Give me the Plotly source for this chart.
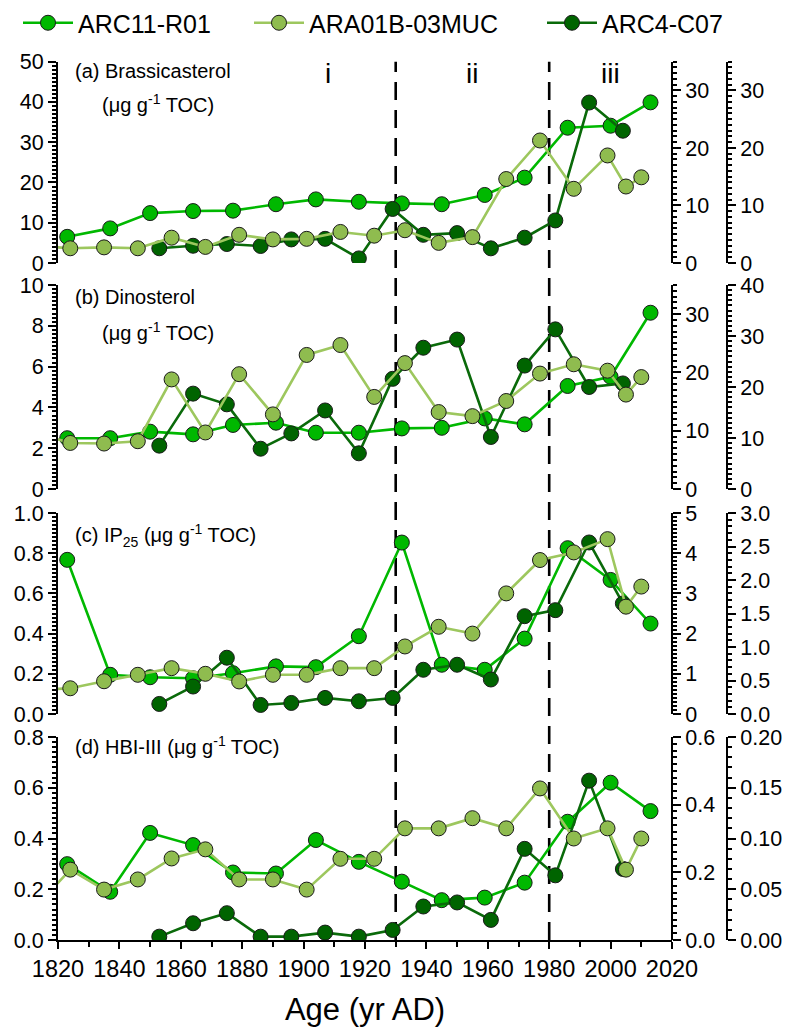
import plotly.graph_objects as go

# ---- data -------------------------------------------------------------
arc11_years = [1823, 1837, 1850, 1864, 1877, 1891, 1904, 1918, 1932, 1945, 1959, 1972, 1986, 2000, 2013]
arc11_brassicasterol = [6.5, 8.6, 12.4, 12.9, 13.0, 14.6, 15.8, 15.2, 14.8, 14.6, 16.9, 21.2, 33.6, 34.1, 39.9]
arc11_dinosterol = [2.49, 2.49, 2.81, 2.68, 3.14, 3.25, 2.76, 2.76, 2.97, 3.0, 3.46, 3.17, 5.05, 5.5, 8.64]
arc11_ip25 = [0.767, 0.195, 0.183, 0.178, 0.203, 0.237, 0.233, 0.387, 0.853, 0.245, 0.22, 0.375, 0.825, 0.667, 0.45]
arc11_hbi3 = [0.299, 0.19, 0.422, 0.374, 0.266, 0.262, 0.394, 0.308, 0.23, 0.157, 0.167, 0.226, 0.466, 0.62, 0.508]

ara_years = [1813, 1824, 1835, 1846, 1857, 1868, 1879, 1890, 1901, 1912, 1923, 1933, 1944, 1955, 1966,
             1977, 1988, 1999, 2005, 2010]
ara_brassicasterol = [3.0, 2.56, 2.72, 2.56, 4.4, 2.8, 4.9, 4.1, 4.2, 5.4, 4.75, 5.7, 3.5, 4.5, 14.6,
                      21.3, 12.9, 18.7, 13.3, 14.9]
ara_dinosterol = [9.6, 7.9, 7.8, 8.2, 18.8, 9.7, 19.7, 12.8, 23.0, 24.7, 15.8, 21.6, 13.2, 12.5, 15.1,
                  19.8, 21.4, 20.3, 16.2, 19.2]
ara_ip25 = [0.6, 0.64, 0.815, 0.975, 1.14, 1.0, 0.81, 0.975, 0.975, 1.14, 1.14, 1.68, 2.17, 2.0, 3.0,
            3.83, 4.02, 4.35, 2.67, 3.17]
ara_hbi3 = [0.10, 0.208, 0.149, 0.179, 0.241, 0.268, 0.179, 0.179, 0.149, 0.24, 0.24, 0.33, 0.33, 0.36, 0.33,
            0.448, 0.30, 0.33, 0.208, 0.30]

arc4_years = [1853, 1864, 1875, 1886, 1896, 1907, 1918, 1929, 1939, 1950, 1961, 1972, 1982, 1993, 2004]
arc4_brassicasterol = [2.56, 3.0, 3.3, 2.96, 4.1, 4.2, 0.8, 9.4, 4.9, 5.2, 2.55, 4.4, 7.4, 27.9, 23.0]
arc4_dinosterol = [8.5, 18.7, 16.6, 7.9, 10.9, 15.4, 7.0, 21.6, 27.7, 29.3, 10.2, 24.2, 31.3, 20.0, 20.7]
arc4_ip25 = [0.15, 0.41, 0.84, 0.135, 0.165, 0.24, 0.19, 0.24, 0.66, 0.735, 0.515, 1.46, 1.55, 2.56, 1.65]
arc4_hbi3 = [0.0033, 0.0165, 0.0264, 0.0033, 0.0033, 0.0073, 0.0033, 0.0099, 0.033, 0.037, 0.0198,
             0.0898, 0.0637, 0.157, 0.07]

period_bounds = [1930, 1980]
period_labels = ["i", "ii", "iii"]

panel_titles = [
    ["(a) Brassicasterol", "(μg g<sup>-1</sup> TOC)"],
    ["(b) Dinosterol", "(μg g<sup>-1</sup> TOC)"],
    ["(c) IP<sub>25</sub> (μg g<sup>-1</sup> TOC)"],
    ["(d) HBI-III (μg g<sup>-1</sup> TOC)"],
]

# axis scales per panel: (left ARC11-R01, inner right ARA01B-03MUC, outer right ARC4-C07)
left_axes = [dict(range=[0, 50], dtick=10, minor=1, fmt="d"),
             dict(range=[0, 10], dtick=2, minor=0.2, fmt="d"),
             dict(range=[0, 1.0], dtick=0.2, minor=0.02, fmt=".1f"),
             dict(range=[0, 0.8], dtick=0.2, minor=0.02, fmt=".1f")]
inner_axes = [dict(range=[0, 35], dtick=10, minor=1, fmt="d"),
              dict(range=[0, 35], dtick=10, minor=1, fmt="d"),
              dict(range=[0, 5], dtick=1, minor=0.1, fmt="d"),
              dict(range=[0, 0.6], dtick=0.2, minor=0.02, fmt=".1f")]
outer_axes = [dict(range=[0, 35], dtick=10, minor=1, fmt="d"),
              dict(range=[0, 40], dtick=10, minor=1, fmt="d"),
              dict(range=[0, 3.0], dtick=0.5, minor=0.1, fmt=".1f"),
              dict(range=[0, 0.2], dtick=0.05, minor=0.01, fmt=".2f")]

arc11_series = [arc11_brassicasterol, arc11_dinosterol, arc11_ip25, arc11_hbi3]
ara_series = [ara_brassicasterol, ara_dinosterol, ara_ip25, ara_hbi3]
arc4_series = [arc4_brassicasterol, arc4_dinosterol, arc4_ip25, arc4_hbi3]

# ---- styling ----------------------------------------------------------
W, H = 792, 1027
FONT = "Liberation Sans, Arial, sans-serif"
C_ARC11 = "#00B800"
C_ARA_M, C_ARA_L = "#8FBC4F", "#9DC75E"
C_ARC4_M, C_ARC4_L = "#006400", "#0A6A0A"
EDGE = "#1a1a1a"

x_left, x_right = 58 / W, 672 / W
x_outer = 727 / W
# vertical pixel extents of the four panels (top, bottom)
panel_px = [(61.7, 263), (285, 489), (513, 714), (737, 940)]
domains = [[1 - b / H, 1 - t / H] for t, b in panel_px]

fig = go.Figure()


def add_series(x, y, xa, ya, name, mcolor, lcolor, legend, show):
    fig.add_trace(go.Scatter(
        x=x, y=y, xaxis=xa, yaxis=ya, name=name, mode="lines+markers",
        line=dict(color=lcolor, width=2.6),
        marker=dict(size=15, color=mcolor, line=dict(color=EDGE, width=1)),
        legend=legend, showlegend=show,
    ))


axis_common = dict(showline=True, linewidth=2, linecolor="black", ticks="outside",
                   ticklen=8, tickwidth=2, tickcolor="black", showgrid=False, zeroline=False,
                   tickfont=dict(size=21.5, color="black", family=FONT))


def minor(d):
    return dict(dtick=d, ticklen=4, tickwidth=1.5, tickcolor="black", ticks="outside")


for p in range(4):
    li, oi, ii = 3 * p + 1, 3 * p + 2, 3 * p + 3
    lname = "y" if li == 1 else f"y{li}"
    # bottom layer: ARC11-R01, then ARC4-C07, then ARA01B-03MUC on top
    add_series(arc11_years, arc11_series[p], "x", lname, "ARC11-R01", C_ARC11, C_ARC11, "legend", p == 0)
    add_series(arc4_years, arc4_series[p], "x", f"y{oi}", "ARC4-C07", C_ARC4_M, C_ARC4_L, "legend3", p == 0)
    add_series(ara_years, ara_series[p], "x", f"y{ii}", "ARA01B-03MUC", C_ARA_M, C_ARA_L, "legend2", p == 0)

    la, ia, oa = left_axes[p], inner_axes[p], outer_axes[p]
    fig.update_layout(**{
        ("yaxis" if li == 1 else f"yaxis{li}"): dict(
            axis_common, domain=domains[p], anchor="x", side="left", range=la["range"],
            dtick=la["dtick"], tick0=0, tickformat=la["fmt"], minor=minor(la["minor"])),
        f"yaxis{ii}": dict(
            axis_common, overlaying=lname, anchor="free", position=x_right, side="right",
            range=ia["range"], dtick=ia["dtick"], tick0=0, tickformat=ia["fmt"], minor=minor(ia["minor"])),
        f"yaxis{oi}": dict(
            axis_common, overlaying=lname, anchor="free", position=x_outer, side="right",
            range=oa["range"], dtick=oa["dtick"], tick0=0, tickformat=oa["fmt"], minor=minor(oa["minor"])),
    })

fig.update_layout(xaxis=dict(
    domain=[x_left, x_right], range=[1820, 2020], anchor="y10", showline=True, linewidth=2,
    linecolor="black", ticks="outside", ticklen=7, tickwidth=2, tickcolor="black", dtick=20,
    showgrid=False, zeroline=False, minor=dict(dtick=10, ticklen=5, tickwidth=1.5, ticks="outside",
                                               tickcolor="black"),
    tickfont=dict(size=23.5, color="black", family=FONT),
    title=dict(text="Age (yr AD)", font=dict(size=31, color="black", family=FONT), standoff=33),
))

# period boundaries
y_bot, y_top = domains[3][0], domains[0][1]
for yr in period_bounds:
    fig.add_shape(type="line", xref="x", yref="paper", x0=yr, x1=yr, y0=y_bot, y1=y_top,
                  line=dict(color="black", width=2.6, dash="18px,10px"), layer="below")

# period labels
for txt, px in zip(period_labels, [328, 471.5, 610]):
    fig.add_annotation(text=txt, xref="paper", yref="paper", x=px / W, y=1 - 73 / H,
                       xanchor="center", yanchor="middle", showarrow=False,
                       font=dict(size=28, color="black", family=FONT))

# panel titles
title_pos = [[(73, 70.7), (100, 103.3)], [(73, 296.7), (100, 331.7)], [(73, 535)], [(73, 745)]]
for lines, poss in zip(panel_titles, title_pos):
    for txt, (px, py) in zip(lines, poss):
        fig.add_annotation(text=txt, xref="paper", yref="paper", x=px / W, y=1 - py / H,
                           xanchor="left", yanchor="middle", showarrow=False,
                           font=dict(size=20, color="black", family=FONT))

leg_common = dict(orientation="h", yanchor="middle", y=1 - 23 / H, xanchor="left",
                  font=dict(size=25, color="black", family=FONT), bgcolor="rgba(0,0,0,0)",
                  itemwidth=50)
fig.update_layout(
    width=W, height=H, margin=dict(l=0, r=0, t=0, b=0, autoexpand=False),
    paper_bgcolor="white", plot_bgcolor="white",
    font=dict(family=FONT, color="black"),
    legend=dict(leg_common, x=18 / W),
    legend2=dict(leg_common, x=249 / W),
    legend3=dict(leg_common, x=542 / W),
)

fig.write_html("out.html")
